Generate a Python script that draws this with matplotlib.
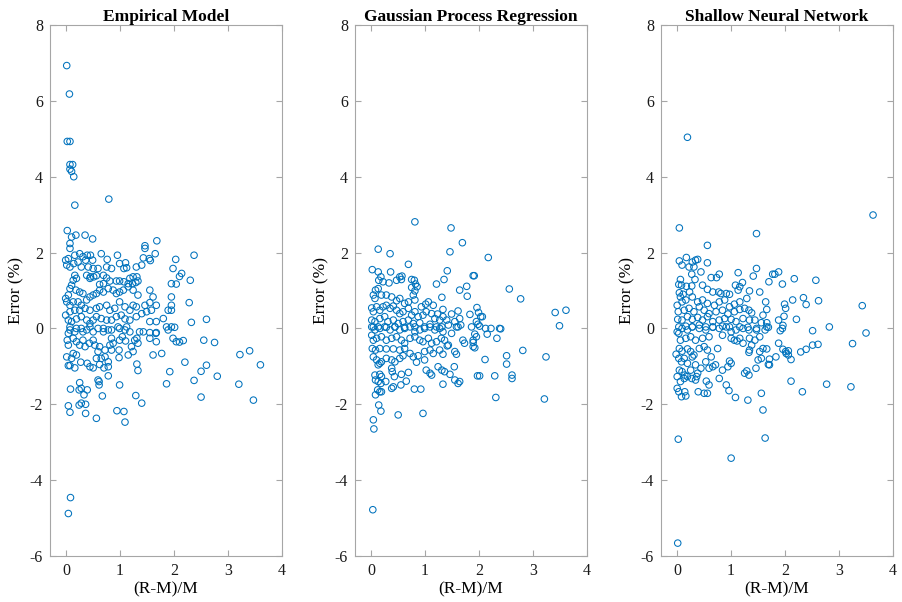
import numpy as np
import matplotlib
matplotlib.use("Agg")
import matplotlib.pyplot as plt

# (R-M)/M , Error (%)
emp_pts = [
    (0.01, 6.93), (0.06, 6.18), (0.02, 4.93), (0.07, 4.93), (0.07, 4.32), (0.12, 4.32),
    (0.07, 4.20), (0.10, 4.14), (0.14, 4.00), (0.79, 3.41), (0.16, 3.25),
    (0.02, 2.58), (0.10, 2.41), (0.18, 2.46), (0.35, 2.46), (0.49, 2.36), (1.68, 2.31),
    (1.46, 2.18), (1.46, 2.11), (0.07, 2.24), (0.07, 2.11), (0.65, 1.97), (0.76, 1.82),
    (0.95, 1.93), (1.65, 1.97), (1.56, 1.79), (1.54, 1.84), (2.03, 1.82), (1.43, 1.86),
    (1.10, 1.73), (0.99, 1.71), (1.98, 1.58), (1.95, 1.18), (2.04, 1.17), (2.10, 1.37),
    (-0.01, 1.80), (0.04, 1.84), (0.01, 1.67), (0.07, 1.62), (0.14, 1.71), (0.16, 1.93),
    (0.25, 1.97), (0.31, 1.89), (0.39, 1.93), (0.45, 1.93), (0.49, 1.80), (0.36, 1.80),
    (0.22, 1.75), (0.41, 1.62), (0.28, 1.62), (0.50, 1.58), (0.59, 1.58), (0.75, 1.62),
    (0.84, 1.58), (1.30, 1.62), (1.40, 1.67), (1.07, 1.58), (1.12, 1.60), (1.18, 1.32),
    (1.24, 1.36), (1.31, 1.36), (1.33, 1.25), (1.29, 1.21), (1.23, 1.18), (1.15, 1.18),
    (1.07, 1.23), (0.99, 1.25), (0.93, 1.25), (0.81, 1.25), (0.69, 1.18), (0.62, 1.16),
    (0.44, 1.32), (0.38, 1.40), (0.45, 1.36), (0.51, 1.36), (0.56, 1.39), (0.69, 1.40),
    (0.75, 1.33), (0.16, 1.40), (0.13, 1.27), (0.19, 1.32), (0.10, 1.14), (0.07, 1.05),
    (0.18, 1.01), (0.25, 0.96), (0.31, 0.92), (0.04, 0.88), (-0.01, 0.79), (0.01, 0.70),
    (0.07, 0.61), (0.13, 0.70), (0.22, 0.70), (0.28, 0.61), (0.38, 0.75), (0.44, 0.83),
    (0.50, 0.88), (0.56, 0.92), (0.62, 1.01), (0.69, 0.96), (0.78, 1.05), (0.87, 1.01),
    (0.93, 0.92), (0.99, 0.96), (1.06, 1.01), (1.15, 1.10), (1.24, 1.01), (1.33, 0.88),
    (1.46, 0.61), (1.55, 1.01), (1.61, 0.83), (1.67, 0.61), (1.55, 0.68), (1.30, 0.57),
    (1.24, 0.61), (1.18, 0.48), (1.09, 0.57), (0.99, 0.70), (0.90, 0.53), (0.81, 0.48),
    (0.75, 0.61), (0.62, 0.57), (0.56, 0.53), (0.44, 0.48), (0.35, 0.53), (0.25, 0.48),
    (0.16, 0.48), (0.07, 0.44), (-0.01, 0.35), (0.04, 0.22), (0.10, 0.18), (0.19, 0.25),
    (0.28, 0.31), (0.38, 0.22), (0.44, 0.13), (0.50, 0.22), (0.56, 0.31), (0.65, 0.26),
    (0.75, 0.22), (0.84, 0.22), (0.93, 0.31), (1.02, 0.35), (1.09, 0.25), (1.18, 0.22),
    (1.30, 0.31), (1.40, 0.39), (1.49, 0.44), (1.58, 0.48), (1.80, 0.26), (1.89, 0.48),
    (1.55, 0.18), (1.67, 0.18), (1.86, 0.04), (1.95, 0.04), (0.07, -0.04), (0.19, 0.00),
    (0.31, -0.09), (0.50, -0.09), (0.69, -0.09), (0.84, -0.04), (0.99, 0.00), (1.18, -0.09),
    (1.36, -0.09), (1.55, -0.11), (1.67, -0.11),
    (0.07, 0.04), (0.16, -0.09), (0.28, 0.00), (0.38, -0.04), (0.44, 0.04), (0.59, 0.00),
    (0.69, 0.00), (0.78, -0.04), (0.96, 0.04), (1.09, -0.04), (1.12, 0.04), (1.43, -0.09),
    (1.55, -0.26), (1.67, -0.35), (1.66, -0.13), (1.89, -0.04), (1.98, -0.26), (2.04, -0.35),
    (0.04, -0.13), (0.02, -0.31), (0.04, -0.44), (0.13, -0.26), (0.19, -0.35), (0.25, -0.44),
    (0.31, -0.31), (0.35, -0.48), (0.43, -0.39), (0.50, -0.31), (0.53, -0.44), (0.62, -0.48),
    (0.59, -0.61), (0.72, -0.57), (0.84, -0.26), (0.81, -0.44), (0.87, -0.39), (0.99, -0.31),
    (1.04, -0.22), (1.10, -0.33), (1.21, -0.48), (1.27, -0.31), (1.31, -0.26), (1.33, -0.39),
    (0.98, -0.57), (1.15, -0.70), (0.98, -0.77), (1.24, -0.61), (1.61, -0.70), (1.77, -0.66),
    (0.01, -0.75), (0.10, -0.79), (0.13, -0.66), (0.19, -0.70), (0.27, -0.89), (0.04, -0.98),
    (0.07, -0.98), (0.16, -1.04), (0.39, -0.92), (0.44, -1.01), (0.50, -1.04), (0.62, -0.95),
    (0.70, -1.04), (0.78, -0.88), (0.78, -1.01), (0.72, -0.75), (0.65, -0.79), (0.56, -0.79),
    (0.84, -0.57), (1.31, -0.94), (1.33, -1.11), (1.92, -1.14), (0.08, -1.60), (0.25, -1.43),
    (0.24, -1.62), (0.28, -1.58), (0.39, -1.62), (0.33, -1.75), (0.36, -2.00), (0.36, -2.24),
    (0.28, -1.97), (0.24, -2.02), (0.56, -2.37), (0.67, -1.78), (0.61, -1.40), (0.61, -1.49),
    (0.59, -1.36), (0.78, -1.25), (0.99, -1.49), (0.94, -2.17), (1.07, -2.19), (1.09, -2.47),
    (1.29, -1.77), (1.40, -1.97), (1.86, -1.46), (0.04, -2.04), (0.07, -2.21), (0.08, -4.46),
    (0.04, -4.88),
    (2.37, 1.93), (2.14, 1.45), (2.30, 1.27), (1.95, 0.83), (1.95, 0.61), (1.95, 0.48),
    (2.28, 0.68), (2.32, 0.16), (2.60, 0.24), (2.01, 0.03), (2.10, -0.36), (2.17, -0.32),
    (2.55, -0.31), (2.75, -0.37), (2.20, -0.89), (2.60, -0.97), (2.50, -1.13), (2.37, -1.37),
    (2.80, -1.26), (2.50, -1.81), (3.22, -0.69), (3.40, -0.59), (3.60, -0.96), (3.20, -1.47),
    (3.47, -1.89),
]

gpr_pts = [
    (0.81, 2.81), (1.48, 2.65), (1.69, 2.26), (1.46, 2.02), (0.13, 2.09), (0.35, 1.97),
    (0.69, 1.69), (0.02, 1.55), (0.13, 1.49), (0.36, 1.49), (0.18, 1.36), (0.14, 1.27),
    (0.22, 1.23), (0.33, 1.20), (0.47, 1.27), (0.56, 1.29), (0.53, 1.36), (0.57, 1.38),
    (0.75, 1.29), (0.80, 1.27), (0.82, 1.17), (0.85, 1.10), (0.81, 0.99), (0.75, 1.08),
    (1.21, 1.17), (1.35, 1.29), (1.41, 1.52), (1.89, 1.39), (1.77, 1.11), (1.64, 1.01),
    (1.78, 0.85), (1.31, 0.82), (1.83, 0.37), (1.61, 0.46), (1.49, 0.38), (1.33, 0.50),
    (1.23, 0.38), (1.15, 0.61), (1.06, 0.70), (1.01, 0.64), (0.93, 0.57), (0.81, 0.75),
    (0.78, 0.88), (0.69, 0.70), (0.62, 0.66), (0.53, 0.79), (0.47, 0.73), (0.38, 0.83),
    (0.28, 0.88), (0.19, 0.88), (0.08, 1.01), (0.13, 1.05), (0.04, 0.88), (0.07, 0.79),
    (0.01, 0.54), (0.04, 0.44), (0.10, 0.57), (0.16, 0.48), (0.22, 0.57), (0.28, 0.61),
    (0.35, 0.53), (0.41, 0.59), (0.47, 0.48), (0.53, 0.39), (0.59, 0.44), (0.69, 0.53),
    (0.75, 0.35), (0.81, 0.44), (0.87, 0.31), (0.96, 0.35), (1.02, 0.44), (1.12, 0.39),
    (1.18, 0.26), (1.27, 0.22), (1.33, 0.31), (1.40, 0.22), (1.55, 0.18), (1.64, 0.26),
    (1.66, 0.09), (0.01, 0.22), (0.07, 0.18), (0.16, 0.26), (0.25, 0.31), (0.31, 0.18),
    (0.41, 0.22), (0.50, 0.13), (0.59, 0.18), (0.69, 0.22), (0.78, 0.13), (0.90, 0.15),
    (0.99, 0.04), (1.09, 0.11), (1.21, 0.04), (1.31, 0.04), (1.43, 0.09), (1.58, 0.04),
    (1.86, 0.04), (0.04, 0.04), (0.13, 0.04), (0.28, 0.03), (0.44, 0.04), (0.62, 0.03),
    (0.81, 0.04),
    (0.01, 0.04), (0.07, -0.04), (0.16, 0.00), (0.25, 0.04), (0.35, -0.04), (0.44, 0.04),
    (0.53, -0.04), (0.62, 0.00), (0.72, 0.04), (0.81, -0.09), (0.90, -0.04), (0.99, 0.00),
    (1.09, 0.04), (1.18, -0.04), (1.27, 0.00), (1.33, -0.09), (1.49, -0.13), (1.61, 0.04),
    (1.70, -0.31), (1.73, -0.39), (1.89, -0.31), (1.89, -0.48), (0.01, -0.18), (0.04, -0.31),
    (0.10, -0.26), (0.19, -0.22), (0.28, -0.31), (0.38, -0.26), (0.47, -0.22), (0.56, -0.31),
    (0.62, -0.39), (0.72, -0.26), (0.81, -0.22), (0.90, -0.31), (0.96, -0.35), (1.06, -0.26),
    (1.12, -0.39), (1.21, -0.35), (1.30, -0.26), (1.36, -0.31), (1.43, -0.44), (0.02, -0.53),
    (0.08, -0.57), (0.16, -0.53), (0.28, -0.54), (0.41, -0.54), (0.53, -0.57), (0.62, -0.53),
    (0.72, -0.66), (0.78, -0.75), (0.87, -0.72), (0.99, -0.61), (1.09, -0.57), (1.15, -0.66),
    (1.27, -0.57), (1.33, -0.68), (1.41, -0.46), (1.55, -0.61), (1.58, -0.68), (0.04, -0.75),
    (0.10, -0.83), (0.16, -0.92), (0.13, -0.96), (0.19, -0.88), (0.28, -0.79), (0.38, -0.83),
    (0.44, -0.88), (0.53, -0.79), (0.59, -0.72), (0.84, -0.89), (0.99, -0.83), (1.02, -1.10),
    (1.12, -1.23), (1.09, -1.18), (1.24, -1.01), (1.31, -1.10), (1.36, -1.14), (1.46, -1.21),
    (1.54, -1.01), (1.55, -1.36), (1.61, -1.45), (1.64, -1.40), (0.38, -1.05), (0.39, -1.14),
    (0.43, -1.27), (0.56, -1.21), (0.69, -1.16), (0.65, -1.39), (0.55, -1.49), (0.41, -1.54),
    (0.38, -1.58), (0.07, -1.23), (0.16, -1.21), (0.19, -1.27), (0.08, -1.36), (0.13, -1.40),
    (0.18, -1.45), (0.27, -1.40), (0.12, -1.62), (0.16, -1.67), (0.19, -1.67), (0.08, -1.75),
    (0.80, -1.60), (0.92, -1.60), (1.33, -1.47), (0.14, -2.02), (0.18, -2.18), (0.50, -2.28),
    (0.96, -2.24), (0.04, -2.41), (0.05, -2.65), (0.03, -4.78),
    (2.17, 1.87), (1.91, 1.39), (2.56, 1.04), (2.77, 0.78), (1.96, 0.55), (1.99, 0.42),
    (2.03, 0.31), (2.06, 0.31), (1.95, 0.18), (1.98, 0.11), (2.01, 0.06), (2.12, 0.00),
    (2.22, 0.00), (2.38, 0.00), (2.40, -0.01), (1.92, -0.15), (1.95, -0.22), (2.15, -0.15),
    (2.33, -0.26), (1.89, -0.37), (1.92, -0.51), (2.51, -0.72), (2.51, -0.94), (2.81, -0.58),
    (3.24, -0.75), (2.11, -0.82), (1.97, -1.25), (2.01, -1.25), (2.29, -1.25), (2.61, -1.23),
    (2.61, -1.32), (2.31, -1.82), (3.21, -1.86), (3.41, 0.42), (3.61, 0.48), (3.49, 0.07),
]

snn_pts = [
    (0.19, 5.04), (0.04, 2.65), (1.47, 2.50), (0.56, 2.19), (0.04, 1.78), (0.17, 1.87),
    (0.09, 1.67), (0.22, 1.62), (0.28, 1.75), (0.34, 1.80), (0.38, 1.82), (0.31, 1.62),
    (0.56, 1.73), (0.06, 1.29), (0.27, 1.43), (0.33, 1.29), (0.44, 1.49), (0.63, 1.34),
    (0.73, 1.34), (0.78, 1.43), (1.13, 1.47), (1.41, 1.38), (1.47, 1.58), (1.77, 1.43),
    (1.81, 1.43), (1.70, 1.23), (1.88, 1.49), (0.03, 1.16), (0.08, 1.14), (0.17, 1.11),
    (0.27, 1.12), (0.04, 0.94), (0.11, 0.90), (0.23, 0.96), (0.47, 1.14), (0.56, 1.03),
    (0.66, 0.96), (0.77, 0.96), (0.81, 0.92), (0.91, 0.92), (0.97, 0.90), (1.08, 1.14),
    (1.16, 1.10), (1.21, 1.21), (1.13, 1.01), (1.34, 0.99), (0.00, 0.61), (0.09, 0.70),
    (0.06, 0.83), (0.16, 0.75), (0.28, 0.83), (0.38, 0.70), (0.47, 0.75), (0.56, 0.66),
    (0.69, 0.61), (0.78, 0.70), (0.88, 0.75), (0.97, 0.57), (1.06, 0.64), (1.16, 0.70),
    (1.29, 0.79), (1.53, 0.96), (1.64, 0.70), (1.66, 0.50), (1.59, 0.35), (0.02, 0.44),
    (0.13, 0.48), (0.22, 0.53), (0.31, 0.44), (0.41, 0.57), (0.50, 0.48), (0.59, 0.39),
    (0.72, 0.44), (0.84, 0.48), (0.94, 0.38), (1.06, 0.44), (1.16, 0.50), (1.25, 0.53),
    (1.33, 0.48), (1.38, 0.41), (0.01, 0.24), (0.09, 0.22), (0.19, 0.31), (0.28, 0.24),
    (0.38, 0.29), (0.47, 0.22), (0.56, 0.31), (0.66, 0.18), (0.78, 0.22), (0.88, 0.26),
    (1.00, 0.24), (1.09, 0.18), (1.22, 0.26), (1.34, 0.22), (1.44, 0.22), (1.56, 0.15),
    (1.66, 0.15), (1.88, 0.22), (0.03, 0.04), (0.16, 0.06), (0.28, 0.04), (0.41, 0.09),
    (0.53, 0.04), (0.66, 0.03), (0.84, 0.06), (0.97, 0.04), (1.16, 0.04), (1.31, 0.03),
    (1.47, 0.00), (1.69, 0.03),
    (0.00, -0.09), (0.09, 0.00), (0.19, -0.04), (0.28, 0.04), (0.41, 0.00), (0.53, -0.04),
    (0.66, 0.04), (0.78, 0.00), (0.91, 0.04), (1.00, -0.09), (1.09, -0.04), (1.22, 0.00),
    (1.33, -0.04), (1.47, -0.04), (1.53, -0.22), (1.63, -0.04), (1.66, 0.04), (1.88, -0.39),
    (0.03, -0.13), (0.06, -0.31), (0.16, -0.26), (0.25, -0.22), (0.34, -0.31), (0.47, -0.26),
    (0.59, -0.22), (0.84, -0.18), (1.00, -0.26), (1.06, -0.31), (1.11, -0.33), (1.16, -0.26),
    (1.22, -0.39), (1.34, -0.26), (1.38, -0.44), (1.44, -0.31), (1.59, -0.53), (1.66, -0.54),
    (1.53, -0.61), (1.34, -0.57), (1.33, -0.63), (-0.02, -0.68), (0.04, -0.53), (0.09, -0.60),
    (0.19, -0.54), (0.25, -0.61), (0.31, -0.70), (0.41, -0.53), (0.50, -0.48), (0.56, -0.57),
    (0.63, -0.75), (0.75, -0.53), (0.97, -0.86), (1.00, -0.92), (0.03, -0.79), (0.08, -0.88),
    (0.13, -0.79), (0.19, -0.92), (0.28, -0.75), (0.34, -0.96), (0.44, -1.05), (0.53, -0.88),
    (0.59, -1.05), (0.66, -1.01), (0.71, -0.96), (0.84, -1.10), (0.94, -1.01), (1.25, -1.18),
    (1.29, -1.12), (1.33, -1.23), (1.46, -1.05), (1.50, -0.83), (1.56, -0.79), (1.69, -0.95),
    (1.83, -0.75), (0.00, -1.27), (0.04, -1.10), (0.09, -1.14), (0.14, -1.23), (0.25, -1.10),
    (0.38, -1.18), (0.36, -1.27), (0.06, -1.40), (0.13, -1.32), (0.19, -1.27), (0.27, -1.32),
    (0.34, -1.36), (0.54, -1.39), (0.59, -1.49), (0.78, -1.32), (0.91, -1.49), (0.96, -1.64),
    (1.08, -1.82), (1.31, -1.89), (1.56, -1.71), (1.59, -2.15), (0.00, -1.58), (0.03, -1.67),
    (0.08, -1.80), (0.14, -1.67), (0.16, -1.78), (0.39, -1.67), (0.50, -1.71), (0.56, -1.71),
    (0.02, -2.92), (1.00, -3.42), (1.63, -2.89), (0.01, -5.66),
    (3.63, 2.99), (1.95, 1.17), (2.17, 1.31), (2.57, 1.27), (2.14, 0.75), (2.34, 0.81),
    (2.39, 0.63), (2.62, 0.73), (1.99, 0.64), (2.01, 0.53), (1.98, 0.32), (2.21, 0.24),
    (1.91, -0.06), (1.95, 0.00), (1.96, 0.08), (2.51, -0.06), (2.82, 0.04), (3.43, 0.60),
    (3.50, -0.12), (1.96, -0.55), (2.01, -0.61), (2.06, -0.59), (2.02, -0.66), (2.06, -0.70),
    (2.11, -0.82), (1.71, -0.81), (1.71, -0.96), (2.29, -0.62), (2.39, -0.55), (2.51, -0.44),
    (2.61, -0.42), (3.25, -0.40), (2.11, -1.39), (2.32, -1.67), (2.77, -1.47), (3.22, -1.54),
]

titles = ["Empirical Model", "Gaussian Process Regression", "Shallow Neural Network"]
x_ticks = [0, 1, 2, 3, 4]
y_ticks = [-6, -4, -2, 0, 2, 4, 6, 8]

plt.rcParams['font.family'] = ['Liberation Serif', 'DejaVu Serif']
plt.rcParams['axes.unicode_minus'] = False

fig = plt.figure(figsize=(9.03, 6.02), dpi=100)
lefts = [50 / 903, 355 / 903, 661 / 903]
blue = '#0072BD'
edge = '#a6a6a6'

for left, title, pts in zip(lefts, titles, [emp_pts, gpr_pts, snn_pts]):
    ax = fig.add_axes([left, 46 / 602, 232 / 903, 531 / 602])
    xs = np.array([p[0] for p in pts])
    ys = np.array([p[1] for p in pts])
    ax.scatter(xs, ys, s=22, facecolors='none', edgecolors=blue, linewidths=0.75)
    ax.set_xlim(-0.3, 4)
    ax.set_ylim(-6, 8)
    ax.set_xticks(x_ticks)
    ax.set_yticks(y_ticks)
    ax.tick_params(direction='in', length=4, width=0.8, color=edge,
                   labelsize=11.5, labelcolor='#1a1a1a', top=True, right=True, pad=5)
    for sp in ax.spines.values():
        sp.set_color(edge)
        sp.set_linewidth(0.8)
    ax.set_title(title, fontsize=12.5, fontweight='bold', pad=3)
    ax.set_xlabel('(R-M)/M', fontsize=12.5, labelpad=2)
    ax.set_ylabel('Error (%)', fontsize=12.5, labelpad=4)

fig.savefig('out.png', dpi=100)
